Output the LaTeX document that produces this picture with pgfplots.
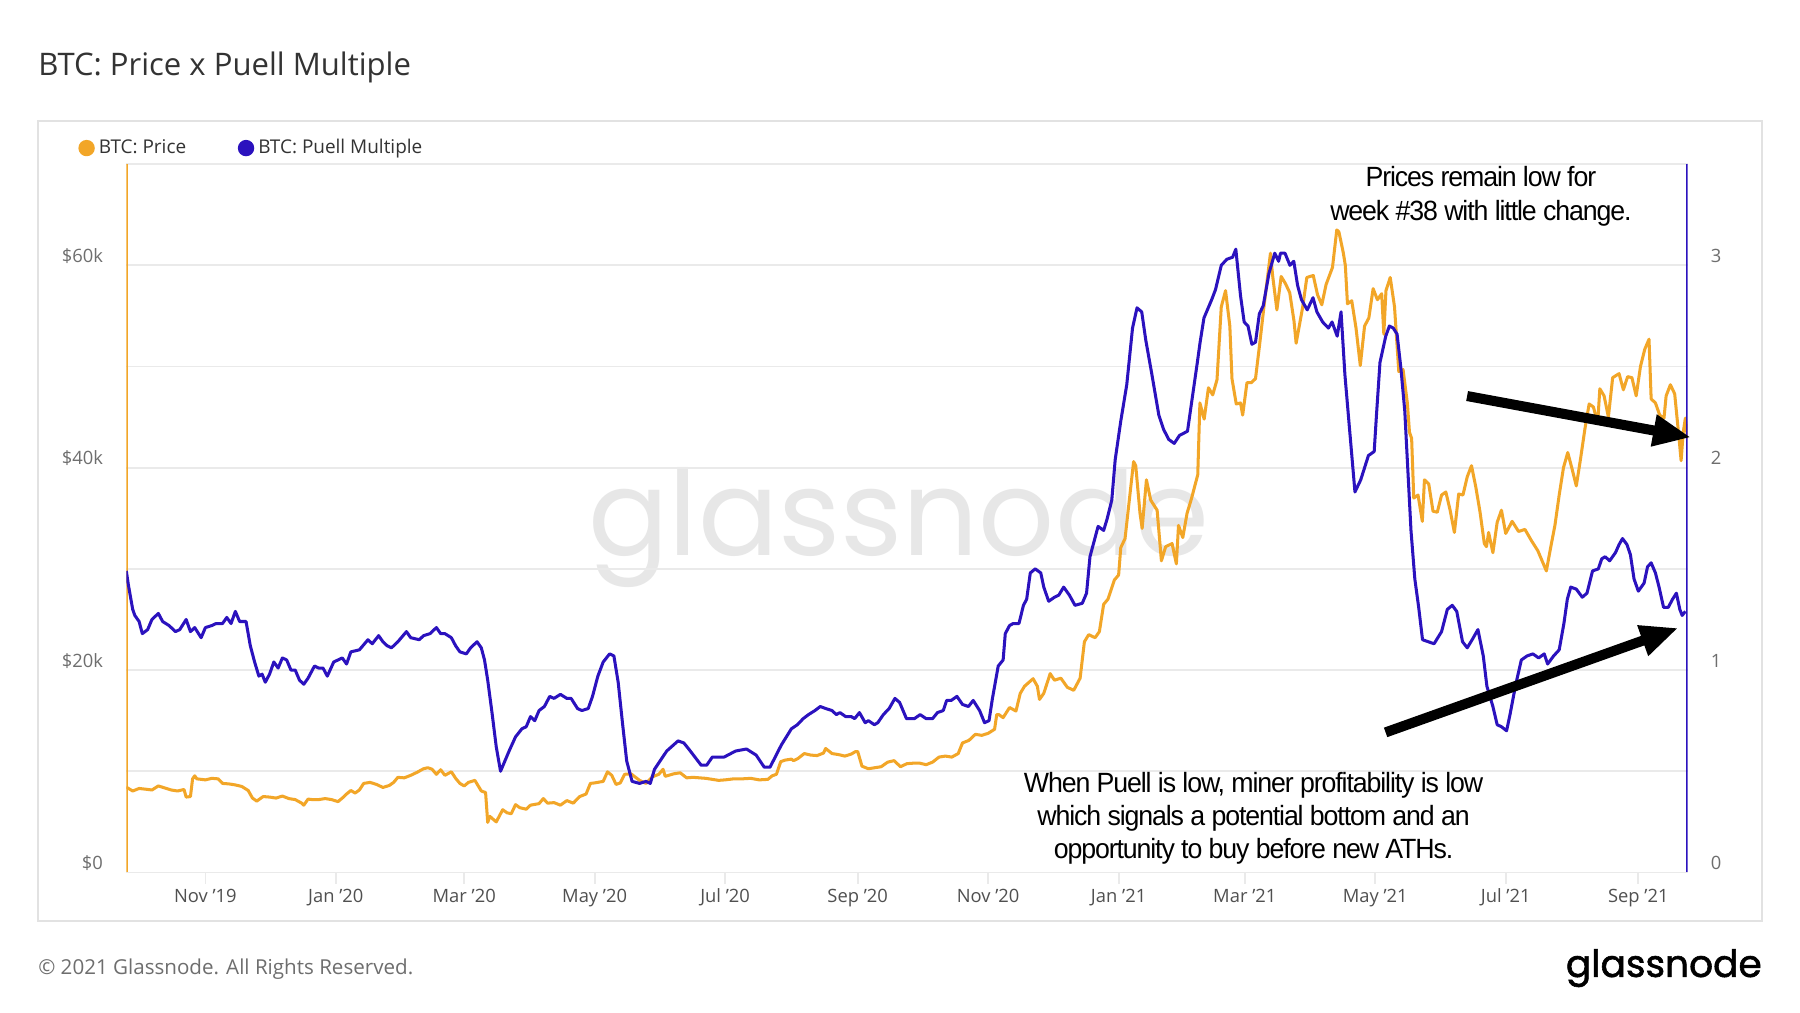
\documentclass[border=0pt]{standalone}
\usepackage{fontspec}
\setmainfont{Open Sans}
\newfontfamily\annotfont[FakeStretch=0.96, LetterSpace=-4]{Liberation Sans}
\newfontfamily\logofont{Poppins}
\newfontfamily\logoboldfont[FakeBold=1.6]{Poppins}
\usepackage{pgfplots}
\pgfplotsset{compat=1.18}
\usetikzlibrary{arrows.meta}

\definecolor{btcorange}{RGB}{242,166,40}
\definecolor{puell}{RGB}{43,18,190}
\definecolor{gridgray}{RGB}{234,234,234}
\definecolor{boxgray}{RGB}{226,226,226}
\definecolor{ticktext}{RGB}{110,110,110}
\definecolor{xtext}{RGB}{80,80,80}
\definecolor{titletext}{RGB}{51,51,51}
\definecolor{wmark}{RGB}{231,231,231}

\begin{document}
\begin{tikzpicture}
\useasboundingbox (0,0) rectangle (313.6mm,176.4mm);
\fill[white] (0,0) rectangle (313.6mm,176.4mm);

% frame and title
\draw[boxgray, line width=1pt] (6.6mm,16mm) rectangle (307mm,155.4mm);
\node[anchor=base west, inner sep=0pt, font=\fontsize{15.4}{18}\selectfont, text=titletext]
  at (6.6mm,163.2mm) {BTC: Price x Puell Multiple};

% watermark
\node[anchor=base, inner sep=0pt, font=\logofont\fontsize{59}{60}\selectfont, text=wmark]
  at (156.6mm,79.6mm) {glassnode};

% price axis (left)
\begin{axis}[
  at={(22mm,24.4mm)}, anchor=south west, scale only axis,
  width=272mm, height=123.4mm,
  xmin=-37, xmax=693, ymin=0, ymax=70,
  axis line style={draw=none},
  ytick={0,20,40,60}, yticklabels={\$0,\$20k,\$40k,\$60k},
  minor ytick={10,30,50,70},
  ymajorgrids, yminorgrids,
  major grid style={gridgray, line width=0.9pt},
  minor grid style={gridgray, line width=0.9pt},
  ytick style={draw=none}, minor tick style={draw=none},
  yticklabel style={anchor=base east, inner sep=0pt, xshift=-4mm, yshift=0.5mm,
    font=\fontsize{9.1}{11}\selectfont, text=ticktext},
  xtick={0,61,121,182,243,305,366,427,486,547,608,670},
  xticklabels={Nov '19,Jan '20,Mar '20,May '20,Jul '20,Sep '20,Nov '20,Jan '21,Mar '21,May '21,Jul '21,Sep '21},
  xtick pos=bottom, xtick align=outside, major tick length=2mm,
  xtick style={gridgray, line width=0.9pt},
  xticklabel style={anchor=base, inner sep=0pt, yshift=-3.3mm,
    font=\fontsize{9.1}{11}\selectfont, text=xtext},
  legend columns=2,
  legend style={at={(-0.0309,1.0227)}, anchor=west, draw=none, fill=none, inner sep=0pt,
    font=\fontsize{9.4}{11}\selectfont, nodes={text=titletext},
    /tikz/every even column/.append style={column sep=8.3mm}},
  legend image code/.code={\fill[#1] (1.16mm,0) circle (1.16mm);},
]
\addplot[btcorange, line width=1.5pt, line join=round] table[x=d, y=p] {
d p
-37 8.43
-34 8.05
-31 8.30
-28 8.23
-25 8.15
-22 8.55
-19 8.35
-16 8.15
-13 8.05
-10 8.20
-9 7.45
-7 7.50
-6 9.25
-5 9.55
-4 9.25
-2 9.20
0 9.15
3 9.30
6 9.25
8 8.80
11 8.75
14 8.65
17 8.50
20 8.10
22 7.35
24 7.05
27 7.50
30 7.45
33 7.35
36 7.55
39 7.30
42 7.20
45 6.85
46 6.65
48 7.25
50 7.20
53 7.20
56 7.30
59 7.20
62 7.00
64 7.35
66 7.75
68 8.10
70 7.85
72 8.15
74 8.80
77 8.90
80 8.70
83 8.40
86 8.60
88 8.90
90 9.40
93 9.35
96 9.60
99 9.90
102 10.25
104 10.35
106 10.20
108 9.70
110 10.15
112 9.60
115 9.95
117 9.30
119 8.80
121 8.55
123 8.90
126 9.10
129 8.05
131 7.90
132 4.95
133 5.55
134 5.35
136 5.00
139 6.20
141 5.90
143 5.80
145 6.70
147 6.40
150 6.25
152 6.65
156 6.80
158 7.30
160 6.85
163 6.90
166 6.65
169 7.10
172 6.85
175 7.50
178 7.75
180 8.80
182 8.85
186 9.00
188 9.95
190 9.60
192 8.70
194 8.85
196 9.70
199 9.75
203 9.10
206 8.80
209 9.45
212 9.70
214 10.20
215 9.50
219 9.75
222 9.85
225 9.35
228 9.40
231 9.35
234 9.30
237 9.20
240 9.10
243 9.15
247 9.25
251 9.25
255 9.30
259 9.15
263 9.20
265 9.55
267 9.70
269 10.95
271 11.10
274 11.20
275 11.05
277 11.25
280 11.75
283 11.60
286 11.55
289 11.80
290 12.25
293 11.75
296 11.65
299 11.50
302 11.70
304 11.95
305 11.95
307 10.50
310 10.25
313 10.35
316 10.45
319 10.90
322 11.05
325 10.45
328 10.75
331 10.80
334 10.80
337 10.65
340 10.90
343 11.40
346 11.50
349 11.40
352 11.75
354 12.80
357 13.05
360 13.65
363 13.55
366 13.75
369 14.15
370 15.60
371 15.60
373 15.30
376 16.30
379 15.95
381 17.70
383 18.40
387 19.15
389 18.40
390 17.10
392 17.70
395 19.65
397 19.00
400 19.20
403 18.30
406 18.00
409 19.20
411 22.80
413 23.50
416 23.20
418 23.80
420 26.50
422 27.00
425 28.90
427 29.40
428 32.10
430 33.00
432 36.80
434 40.60
435 40.20
437 35.50
438 34.00
440 38.80
442 36.80
445 35.80
447 30.80
449 32.20
452 32.50
454 30.50
455 34.30
457 33.10
459 35.50
461 36.90
464 39.30
465 46.40
467 44.80
469 47.90
471 47.20
473 48.70
475 55.90
477 57.50
479 54.00
480 48.80
482 46.30
484 46.40
485 45.20
487 48.40
489 48.40
491 48.80
493 52.30
495 56.00
498 61.20
499 59.00
501 55.60
503 58.90
505 58.20
507 57.30
509 54.50
510 52.30
513 55.80
515 58.80
518 59.00
520 57.10
522 56.10
524 58.10
527 59.80
529 63.50
530 63.30
532 61.30
533 60.00
534 56.20
536 56.50
538 53.80
540 50.10
542 54.00
544 54.80
546 57.70
548 56.60
550 57.20
551 53.20
552 57.50
554 58.80
556 55.90
558 49.50
560 49.70
562 46.40
563 43.50
564 42.90
565 37.00
567 37.30
569 34.70
570 38.80
572 38.40
574 35.70
576 35.60
578 37.30
580 37.60
582 35.80
584 33.60
586 37.40
588 37.30
590 39.10
592 40.20
594 38.10
596 35.60
598 32.50
599 32.20
600 33.60
602 31.60
604 34.60
606 35.80
608 33.50
611 34.70
614 33.70
617 33.90
620 32.80
623 31.80
627 29.80
629 32.10
631 34.30
633 37.30
635 40.00
637 41.50
639 39.90
641 38.20
643 40.90
645 43.80
647 46.30
649 46.00
651 44.40
652 47.80
654 47.10
656 45.00
658 48.90
661 49.30
663 47.70
665 49.00
667 48.90
669 47.10
671 50.00
673 51.70
675 52.70
676 46.80
678 46.40
680 45.20
682 44.90
683 47.10
685 48.20
687 47.30
689 43.00
690 40.70
691 43.50
692 44.90
693 42.80
};
\addlegendentry{BTC: Price}
\addlegendimage{puell, line width=1.5pt}
\addlegendentry{BTC: Puell Multiple}
\draw[btcorange, line width=2pt] (rel axis cs:0,0) -- (rel axis cs:0,1);
\end{axis}

% Puell axis (right)
\begin{axis}[
  at={(22mm,24.4mm)}, anchor=south west, scale only axis,
  width=272mm, height=123.4mm,
  xmin=-37, xmax=693, ymin=0, ymax=3.5,
  axis line style={draw=none},
  xtick=\empty,
  ytick={0,1,2,3}, yticklabels={0,1,2,3},
  yticklabel pos=right, ytick style={draw=none},
  yticklabel style={anchor=base west, inner sep=0pt, xshift=4mm, yshift=0.5mm,
    font=\fontsize{9.1}{11}\selectfont, text=ticktext},
]
\addplot[puell, line width=1.5pt, line join=round] table[x=d, y=m] {
d m
-37 1.49
-36 1.42
-35 1.36
-34 1.30
-33 1.27
-31 1.24
-29.5 1.18
-27 1.20
-25 1.25
-22 1.28
-20 1.24
-17 1.22
-14 1.19
-12 1.20
-9 1.25
-7 1.19
-5 1.21
-2 1.16
0 1.21
3 1.22
5 1.23
8 1.23
10 1.26
12 1.23
14 1.29
16 1.24
19 1.24
21 1.12
23 1.04
25 0.97
26.5 0.98
28 0.94
30 0.98
32 1.04
34 1.01
36 1.06
38 1.05
40 1.00
42 1.00
44 0.95
46 0.93
48 0.96
51 1.02
53 1.01
55 1.01
57 0.97
60 1.04
64 1.06
66 1.03
68 1.09
72 1.10
76 1.15
78 1.13
81 1.17
83 1.14
85 1.12
87 1.11
90 1.14
94 1.19
96 1.16
100 1.15
102 1.17
105 1.18
108 1.21
110 1.18
112 1.18
115 1.16
117 1.12
119 1.09
122 1.08
124 1.11
127 1.14
129 1.11
130.5 1.05
132 0.95
134 0.79
136 0.62
138 0.50
140 0.55
142 0.60
145 0.67
148 0.71
150 0.72
152 0.77
154 0.75
156 0.80
158.5 0.82
161 0.87
163 0.86
166 0.88
169 0.86
171 0.86
174 0.81
176 0.80
179 0.81
181 0.87
183.5 0.97
186 1.04
189 1.08
191 1.07
193 0.94
195 0.74
197 0.55
199.5 0.45
203 0.44
206 0.45
208 0.44
210 0.51
215.7 0.60
221 0.65
223.7 0.64
226 0.61
231.8 0.53
234.4 0.53
237 0.57
242.5 0.57
247.9 0.60
253 0.61
257.5 0.58
261.3 0.52
264 0.52
269.3 0.63
274 0.71
276.8 0.73
279.5 0.76
282 0.78
285 0.80
287.5 0.82
290 0.81
293 0.80
295 0.78
296.7 0.79
299.4 0.77
302 0.77
303.6 0.76
305.8 0.79
308.5 0.74
310 0.75
312.8 0.73
314.4 0.74
317 0.78
319.7 0.81
322.4 0.86
324.6 0.84
327.8 0.76
331.5 0.76
334.2 0.78
337 0.76
340 0.76
342.3 0.79
345 0.80
346.6 0.85
348.7 0.85
351.4 0.87
354 0.83
356.8 0.82
359 0.85
362 0.80
364.3 0.74
366.4 0.75
368 0.86
370.7 1.02
373 1.05
374 1.18
376 1.22
377.7 1.23
380.4 1.23
382.5 1.32
384 1.35
385.7 1.48
388 1.50
390.6 1.48
392 1.41
394.3 1.34
397 1.36
399 1.37
401.3 1.41
404 1.37
406.6 1.32
410 1.33
412 1.38
413.6 1.56
417.4 1.71
420 1.69
421.7 1.75
423.8 1.84
425.4 2.04
428 2.23
430.8 2.41
433.5 2.69
435.6 2.79
437.8 2.77
439.7 2.63
442.4 2.47
445.8 2.26
448 2.19
450.4 2.14
453 2.12
455.5 2.16
459.2 2.18
461.5 2.35
463.8 2.52
465.1 2.62
466.9 2.74
470.5 2.83
472.3 2.88
475 3.00
477.6 3.03
480.3 3.04
481.8 3.08
484 2.85
485.7 2.72
487.5 2.70
489.3 2.61
491 2.62
492.8 2.76
494.6 2.80
497.3 2.96
500 3.06
501.8 3.02
502.7 3.06
504.8 3.06
507.1 3.00
508.9 3.02
510.7 2.90
512.5 2.83
515.2 2.78
517.9 2.84
519.7 2.77
522.4 2.72
525.1 2.69
526.8 2.72
529.2 2.65
531 2.77
532.8 2.46
534.9 2.20
537.5 1.88
540.2 1.94
543.8 2.06
546.5 2.08
547.5 2.25
549.2 2.52
551.9 2.65
553.6 2.70
555.4 2.69
557.2 2.66
559 2.49
560.8 2.28
563.7 1.69
565.5 1.45
567.3 1.31
569.1 1.15
574.5 1.13
578 1.19
580.7 1.30
583 1.32
585.1 1.29
587.8 1.14
590 1.11
592.3 1.15
595 1.20
597.5 1.07
599.2 0.92
602 0.82
604 0.73
606 0.72
608.4 0.70
610 0.78
612.7 0.93
615.3 1.05
618 1.07
620.7 1.08
623.4 1.06
626 1.08
627.6 1.03
630.4 1.07
633 1.10
635.2 1.23
636.8 1.35
638.4 1.41
641 1.40
643.8 1.36
646 1.38
648.6 1.49
651.3 1.50
652.9 1.55
654.5 1.56
656.6 1.54
659.3 1.58
661 1.62
662.6 1.65
664.7 1.62
666.3 1.57
668 1.45
670 1.39
672.7 1.43
674.3 1.51
676 1.53
678 1.48
679.7 1.41
681.8 1.31
684 1.31
686 1.35
687.8 1.38
689.4 1.30
690.5 1.27
692 1.29
};
\draw[puell, line width=2pt] (rel axis cs:1,0) -- (rel axis cs:1,1);
\end{axis}

% annotations
\node[align=center, inner sep=0pt, font=\annotfont\fontsize{13.8}{16.5}\selectfont]
  at (258mm,142.2mm) {Prices remain low for\\week \#38 with little change.};
\node[align=center, inner sep=0pt, font=\annotfont\fontsize{13.8}{16.5}\selectfont]
  at (218.4mm,33.8mm) {When Puell is low, miner profitability is low\\which signals a potential bottom and an\\opportunity to buy before new ATHs.};
\draw[line width=1.75mm, -{Triangle[length=6.6mm, width=5.2mm]}] (255.6mm,107.4mm) -- (294.6mm,100.2mm);
\draw[line width=1.75mm, -{Triangle[length=6.6mm, width=5.2mm]}] (241.4mm,48.8mm) -- (292.4mm,67.0mm);

% footer
\node[anchor=base west, inner sep=0pt, font=\fontsize{10.2}{12}\selectfont, text=ticktext]
  at (6.6mm,6.6mm) {© 2021 Glassnode. All Rights Reserved.};
\node[anchor=base east, inner sep=0pt, font=\logoboldfont\fontsize{18.6}{20}\selectfont, text=black]
  at (307mm,6.2mm) {glassnode};
\end{tikzpicture}
\end{document}
